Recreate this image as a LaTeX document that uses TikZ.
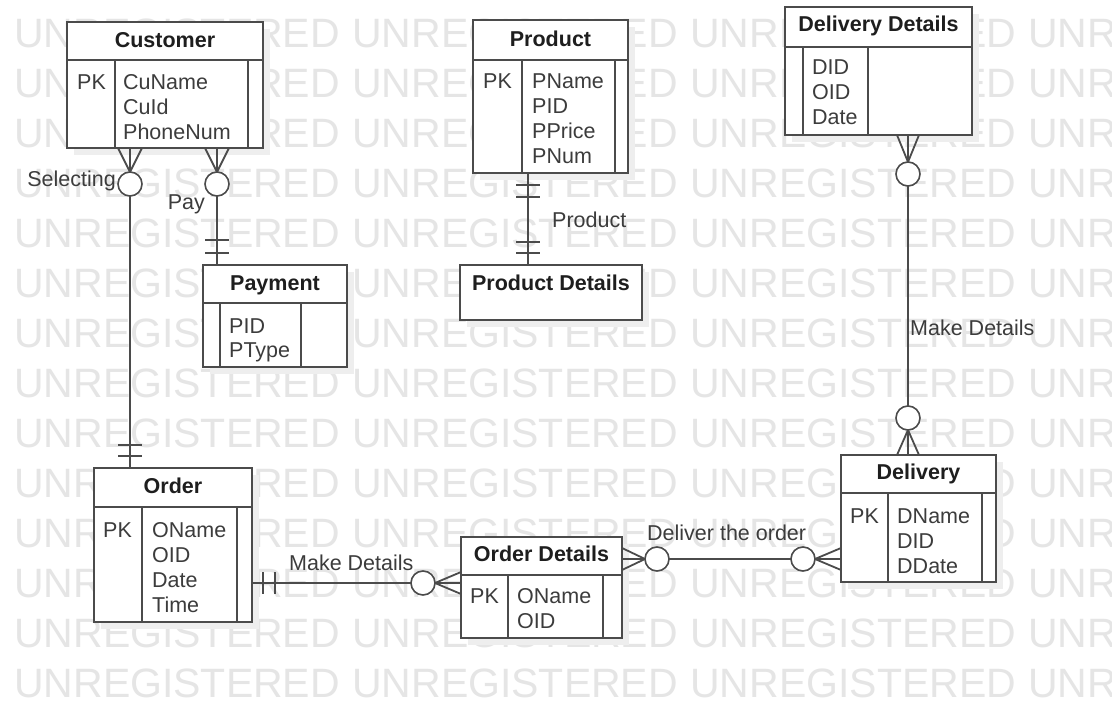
\documentclass[tikz,border=0pt]{standalone}
\usepackage{fontspec}
\setmainfont{Liberation Sans}
\usetikzlibrary{calc}
\definecolor{wm}{RGB}{229,229,229}
\definecolor{ln}{RGB}{75,75,75}
\definecolor{tx}{RGB}{60,60,60}
\definecolor{hd}{RGB}{30,30,30}
\definecolor{sh}{RGB}{238,238,238}
\newcommand\erbox[8]{%
  \fill[sh] (#2+7,#3+7) rectangle (#4+7,#5+7);
  \node[ent, anchor=north west, minimum width={#4-#2}, minimum height={#5-#3}] (#1) at (#2,#3) {};
  \draw[entl] (#2,#6) -- (#4,#6) (#7,#6) -- (#7,#5) (#8,#6) -- (#8,#5);
}
\begin{document}
\begin{tikzpicture}[x=1pt,y=-1pt,
  ent/.style={rectangle, draw=ln, line width=2pt, fill=white, inner sep=0pt, outer sep=0pt},
  entl/.style={draw=ln, line width=2pt},
  conn/.style={draw=ln, line width=1.8pt},
  circ/.style={circle, draw=ln, line width=1.6pt, fill=white, minimum size=24pt, inner sep=0pt, outer sep=0pt},
  hdr/.style={font=\bfseries\fontsize{21.5}{25}\selectfont, text=hd, anchor=base, inner sep=0pt},
  attr/.style={font=\fontsize{21.5}{25}\selectfont, text=tx, anchor=base west, inner sep=0pt},
  lbl/.style={font=\fontsize{21.5}{25}\selectfont, text=tx, inner sep=0pt},
  wmk/.style={font=\fontsize{41}{41}\selectfont, text=wm, anchor=base west, inner sep=0pt}]
\useasboundingbox (0,0) rectangle (1112,706);
\fill[white] (0,0) rectangle (1112,706);
% watermark
\begin{scope}
\clip (0,0) rectangle (1112,706);
\foreach \r in {0,...,13}{
  \foreach \c in {0,...,3}{
    \node[wmk] (wm-\r-\c) at ({14+338*\c},{47.5+50*\r}) {UNREGISTERED};
  }
}
\end{scope}

% entities
\erbox{cust}{67}{22}{263}{148}{60}{115}{248}
\erbox{prod}{473}{20}{628}{173}{60}{522}{615}
\erbox{ddet}{785}{7}{972}{135}{47}{803}{868}
\erbox{pay}{203}{265}{347}{367}{303}{220}{301}
\fill[sh] (467,272) rectangle (649,327);
\node[ent, anchor=north west, minimum width=182, minimum height=55] (pdet) at (460,265) {};
\erbox{ord}{94}{468}{252}{622}{507}{142}{237}
\erbox{odet}{461}{537}{622}{638}{575}{508}{603}
\erbox{deliv}{841}{455}{996}{582}{493}{888}{982}

% texts: Customer
\node[hdr] (custT) at (165,48) {Customer};
\node[attr] (custK) at (77,90) {PK};
\node[attr] (custA1) at (123,90) {CuName};
\node[attr] (custA2) at (123,115) {CuId};
\node[attr] (custA3) at (123,140) {PhoneNum};
% Product
\node[hdr] (prodT) at (550.5,47) {Product};
\node[attr] (prodK) at (483,89) {PK};
\node[attr] (prodA1) at (532,89) {PName};
\node[attr] (prodA2) at (532,114) {PID};
\node[attr] (prodA3) at (532,139) {PPrice};
\node[attr] (prodA4) at (532,164) {PNum};
% Delivery Details
\node[hdr] (ddetT) at (878.5,32) {Delivery Details};
\node[attr] (ddetA1) at (812,75) {DID};
\node[attr] (ddetA2) at (812,100) {OID};
\node[attr] (ddetA3) at (812,125) {Date};
% Payment
\node[hdr] (payT) at (275,290) {Payment};
\node[attr] (payA1) at (229,333) {PID};
\node[attr] (payA2) at (229,357) {PType};
% Product Details
\node[hdr] (pdetT) at (551,290) {Product Details};
% Order
\node[hdr] (ordT) at (173,493) {Order};
\node[attr] (ordK) at (103,537) {PK};
\node[attr] (ordA1) at (152,537) {OName};
\node[attr] (ordA2) at (152,562) {OID};
\node[attr] (ordA3) at (152,587) {Date};
\node[attr] (ordA4) at (152,612) {Time};
% Order Details
\node[hdr] (odetT) at (541.5,561) {Order Details};
\node[attr] (odetK) at (470,603) {PK};
\node[attr] (odetA1) at (517,603) {OName};
\node[attr] (odetA2) at (517,628) {OID};
% Delivery
\node[hdr] (delivT) at (918.5,479) {Delivery};
\node[attr] (delivK) at (850,523) {PK};
\node[attr] (delivA1) at (897,523) {DName};
\node[attr] (delivA2) at (897,548) {DID};
\node[attr] (delivA3) at (897,573) {DDate};

% connector: Selecting (Customer -- Order)
\node[circ] (selC) at (130,184) {};
\draw[conn] (selC.south) -- (selC.south |- ord.north);
\draw[conn] (selC.north) -- (selC.north |- cust.south)
  (selC.north) -- ($(selC.north |- cust.south)+(-12,0)$)
  (selC.north) -- ($(selC.north |- cust.south)+(12,0)$);
\draw[conn] ($(selC |- ord.north)+(-12,-23)$) -- ++(24,0)
  ($(selC |- ord.north)+(-12,-12)$) -- ++(24,0);
\node[lbl, anchor=base east] (lSel) at (116,187) {Selecting};

% connector: Pay (Customer -- Payment)
\node[circ] (payC) at (217,184) {};
\draw[conn] (payC.south) -- (payC.south |- pay.north);
\draw[conn] (payC.north) -- (payC.north |- cust.south)
  (payC.north) -- ($(payC.north |- cust.south)+(-12,0)$)
  (payC.north) -- ($(payC.north |- cust.south)+(12,0)$);
\draw[conn] ($(payC |- pay.north)+(-12,-25)$) -- ++(24,0)
  ($(payC |- pay.north)+(-12,-12)$) -- ++(24,0);
\node[lbl, anchor=base east] (lPay) at (205,210) {Pay};

% connector: Product -- Product Details
\coordinate (prodA) at (528,0);
\draw[conn] (prodA |- prod.south) -- (prodA |- pdet.north);
\draw[conn] ($(prodA |- prod.south)+(-12,12)$) -- ++(24,0)
  ($(prodA |- prod.south)+(-12,24)$) -- ++(24,0)
  ($(prodA |- pdet.north)+(-12,-23)$) -- ++(24,0)
  ($(prodA |- pdet.north)+(-12,-12)$) -- ++(24,0);
\node[lbl, anchor=base west] (lProd) at (552,228) {Product};

% connector: Delivery Details -- Delivery
\node[circ] (ddC) at (908,174) {};
\node[circ] (dvC) at (908,418) {};
\draw[conn] (ddC.south) -- (dvC.north);
\draw[conn] (ddC.north) -- (ddC.north |- ddet.south)
  (ddC.north) -- ($(ddC.north |- ddet.south)+(-11,0)$)
  (ddC.north) -- ($(ddC.north |- ddet.south)+(11,0)$);
\draw[conn] (dvC.south) -- (dvC.south |- deliv.north)
  (dvC.south) -- ($(dvC.south |- deliv.north)+(-11,0)$)
  (dvC.south) -- ($(dvC.south |- deliv.north)+(11,0)$);
\node[lbl, anchor=base west] (lMD2) at (910,335) {Make Details};

% connector: Order -- Order Details
\node[circ] (mdC) at (423,583) {};
\draw[conn] (ord.east |- mdC) -- (mdC.west);
\draw[conn] ($(ord.east |- mdC)+(11,-11)$) -- ++(0,22)
  ($(ord.east |- mdC)+(23,-11)$) -- ++(0,22);
\draw[conn] (mdC.east) -- (mdC.east -| odet.west)
  (mdC.east) -- ($(mdC.east -| odet.west)+(0,-11)$)
  (mdC.east) -- ($(mdC.east -| odet.west)+(0,11)$);
\node[lbl, anchor=base west] (lMD1) at (289,570) {Make Details};

% connector: Order Details -- Delivery
\node[circ] (doC1) at (657,559) {};
\node[circ] (doC2) at (803,559) {};
\draw[conn] (doC1.east) -- (doC2.west);
\draw[conn] (doC1.west) -- (doC1.west -| odet.east)
  (doC1.west) -- ($(doC1.west -| odet.east)+(0,-11)$)
  (doC1.west) -- ($(doC1.west -| odet.east)+(0,11)$);
\draw[conn] (doC2.east) -- (doC2.east -| deliv.west)
  (doC2.east) -- ($(doC2.east -| deliv.west)+(0,-11)$)
  (doC2.east) -- ($(doC2.east -| deliv.west)+(0,11)$);
\node[lbl, anchor=base west] (lDel) at (647,540) {Deliver the order};
\end{tikzpicture}
\end{document}
